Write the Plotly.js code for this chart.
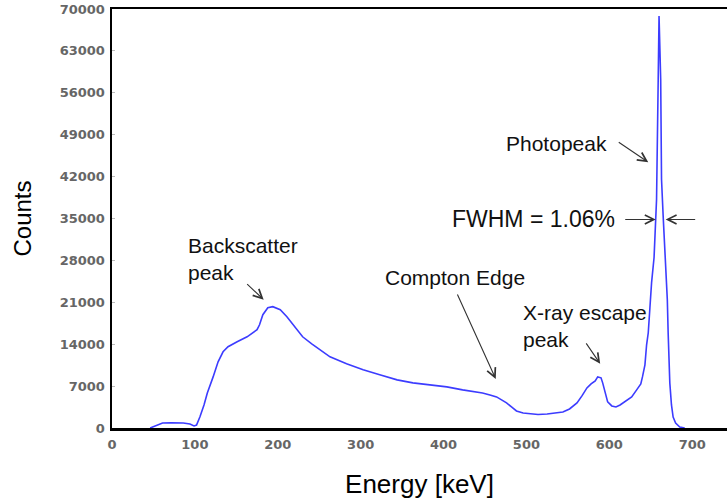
<!DOCTYPE html>
<html>
<head>
<meta charset="utf-8">
<script src="https://cdn.plot.ly/plotly-3.0.1.min.js"></script>
<style>
  html, body { margin: 0; padding: 0; background: #fff; }
  #chart { width: 727px; height: 504px; }
</style>
</head>
<body>
<div id="chart"></div>
<script>
// Gamma-ray energy spectrum (Cs-137 source): channel energy in keV and counts
const energyKeV = [
  46, 52, 61, 72, 86, 94, 99, 102, 106, 111, 115, 122, 128, 134, 140, 151,
  163, 175, 178, 182, 188, 194, 203, 211, 220, 230, 241, 251, 263, 283, 303,
  323, 344, 363, 384, 404, 423, 439, 447, 456, 464, 470, 476, 482, 488, 496,
  504, 514, 525, 534, 544, 552, 561, 567, 573, 578, 583, 586, 590, 592, 595,
  598, 603, 608, 613, 621, 627, 633, 638, 640, 643, 645, 647, 649, 651, 654,
  655, 657, 659, 660, 662, 663, 665, 667, 668, 670, 671, 673, 675, 677, 680,
  685, 691
];
const counts = [
  0, 340, 840, 850, 840, 670, 340, 500, 1840, 3850, 5860, 8540, 11050, 12730,
  13570, 14400, 15240, 16420, 17250, 18930, 20100, 20270, 19770, 18590, 16920,
  15240, 14070, 13070, 11890, 10720, 9720, 8880, 8040, 7540, 7200, 6870, 6370,
  6030, 5860, 5530, 5190, 4690, 4190, 3520, 2850, 2510, 2350, 2260, 2350, 2510,
  2680, 3180, 4190, 5360, 6700, 7370, 7870, 8540, 8380, 7540, 5860, 4360, 3690,
  3520, 3850, 4690, 5190, 6370, 7370, 8540, 10550, 13900, 15910, 20100, 24290,
  28480, 32660, 38190, 58290, 68840, 58290, 41540, 35340, 29800, 26970, 21440,
  15910, 7540, 3850, 1840, 840, 170, 0
];

// Axis ticks
const xTicks = [0, 100, 200, 300, 400, 500, 600, 700];
const yTicks = [0, 7000, 14000, 21000, 28000, 35000, 42000, 49000, 56000, 63000, 70000];
const yTickText = yTicks.map(String);

// Callout labels: [text, x (keV), y (counts), anchor, font size]
const labelText = ["Backscatter<br>peak", "Compton Edge", "X-ray escape<br>peak", "Photopeak", "FWHM = 1.06%"];
const labelX = [89, 414, 494, 536, 508];
const labelY = [28300, 25100, 17100, 47600, 34840];
const labelAnchor = ["left", "center", "left", "center", "center"];
const labelSize = [21, 21, 21, 21, 23];

// Arrows: head position in data units, tail offset in px
const arrowX = [183, 463, 589, 647, 656, 668];
const arrowY = [21440, 8200, 10720, 44390, 34840, 34840];
const arrowAx = [-18, -39, -15, -31, -32, 31];
const arrowAy = [-17, -86, -22, -21, 0, 0];

const textFont = "Liberation Sans, Arial, sans-serif";
const tickFont = { family: "DejaVu Sans, sans-serif", size: 13, color: "#666", weight: "bold" };

const annotations = [];
labelText.forEach((t, i) => {
  annotations.push({
    x: labelX[i], y: labelY[i], xref: "x", yref: "y",
    text: t, showarrow: false,
    xanchor: labelAnchor[i], yanchor: "middle", align: "left",
    font: { family: textFont, size: labelSize[i], color: "#111" }
  });
});
arrowX.forEach((x, i) => {
  annotations.push({
    x: x, y: arrowY[i], xref: "x", yref: "y",
    text: "", showarrow: true,
    ax: arrowAx[i], ay: arrowAy[i],
    arrowhead: 5, arrowsize: 1.6, arrowwidth: 1.1, arrowcolor: "#333"
  });
});

const trace = {
  x: energyKeV, y: counts,
  type: "scatter", mode: "lines",
  line: { color: "#3c3cff", width: 1.6 },
  hoverinfo: "x+y"
};

const layout = {
  width: 727, height: 504,
  margin: { l: 112, r: 0, t: 9, b: 76 },
  paper_bgcolor: "#fff", plot_bgcolor: "#fff",
  showlegend: false,
  xaxis: {
    range: [0, 742],
    tickmode: "array", tickvals: xTicks, ticktext: xTicks.map(String),
    showgrid: false, zeroline: false,
    showline: true, linecolor: "#000", linewidth: 2.5, mirror: true,
    ticks: "", tickfont: tickFont, ticklabelstandoff: 3,
    title: { text: "Energy [keV]", standoff: 24,
             font: { family: textFont, size: 26, color: "#000" } }
  },
  yaxis: {
    range: [0, 70000],
    tickmode: "array", tickvals: yTicks, ticktext: yTickText,
    showgrid: false, zeroline: false,
    showline: true, linecolor: "#000", linewidth: 2.5,
    ticks: "inside", ticklen: 3, tickcolor: "#bbb", tickwidth: 1,
    tickfont: tickFont, ticklabelstandoff: 2,
    title: { text: "Counts", standoff: 22,
             font: { family: textFont, size: 24, color: "#000" } }
  },
  annotations: annotations
};

Plotly.newPlot("chart", [trace], layout, { displayModeBar: false, staticPlot: true });
</script>
</body>
</html>
